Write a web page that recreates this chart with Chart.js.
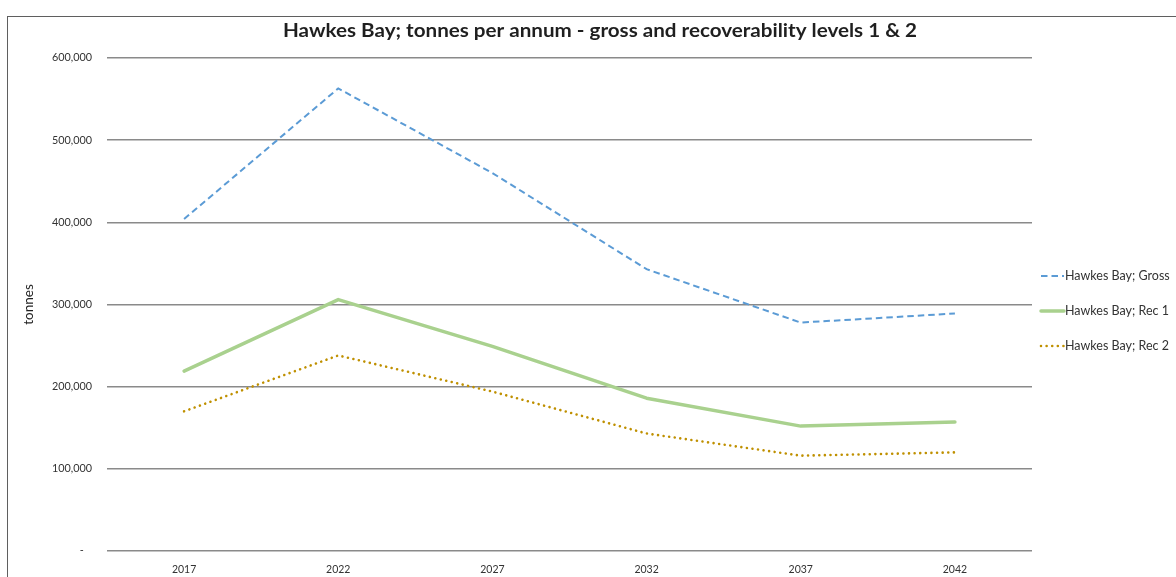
<!DOCTYPE html>
<html>
<head>
<meta charset="utf-8">
<script src="https://cdn.jsdelivr.net/npm/chart.js@4/dist/chart.umd.min.js"></script>
<style>
  html, body { margin: 0; padding: 0; background: #fff; }
  #wrap { position: relative; width: 1176px; height: 577px; overflow: hidden; }
  #frame { position: absolute; left: 7px; top: 16px; right: -10px; bottom: -10px;
           border-left: 1.5px solid #5f5f5f; border-top: 1.5px solid #5f5f5f; }
  canvas { position: absolute; left: 0; top: 0; }
</style>
</head>
<body>
<div id="wrap">
  <div id="frame"></div>
  <canvas id="chart" width="1176" height="577"></canvas>
</div>
<script>
// Projection years
const years = ['2017', '2022', '2027', '2032', '2037', '2042'];

// Tonnes per annum for each series
const grossTonnes = [404000, 563000, 460000, 343000, 278000, 289000];
const rec1Tonnes  = [219000, 306000, 249000, 186000, 152000, 157000];
const rec2Tonnes  = [170000, 238000, 194000, 143000, 116000, 120000];

// Value axis range
const yMin = 0;
const yMax = 600000;
const yStep = 100000;

const seriesNames = ['Hawkes Bay; Gross', 'Hawkes Bay; Rec 1', 'Hawkes Bay; Rec 2'];
const chartTitle = 'Hawkes Bay; tonnes per annum - gross and recoverability levels 1 & 2';
const yTitle = 'tonnes';

const FONT = 'Lato, "Open Sans", sans-serif';

// Title centred over the framed panel, fitted to the panel's title width
const titlePlugin = {
  id: 'panelTitle',
  afterDraw(chart) {
    const ctx = chart.ctx;
    ctx.save();
    ctx.font = 'bold 19px ' + FONT;
    ctx.fillStyle = '#1f1f1f';
    ctx.textAlign = 'center';
    ctx.textBaseline = 'middle';
    const w = ctx.measureText(chartTitle).width;
    const sx = 634 / w;
    ctx.translate(600, 31);
    ctx.scale(sx, 1);
    ctx.fillText(chartTitle, 0, 0);
    ctx.restore();
  }
};

// Line-sample legend to the right of the plot
const sideLegend = {
  id: 'sideLegend',
  afterDraw(chart) {
    const ctx = chart.ctx;
    chart.data.datasets.forEach((ds, i) => {
      const y = 276 + 35 * i;
      ctx.save();
      ctx.strokeStyle = ds.borderColor;
      ctx.lineWidth = ds.borderWidth;
      ctx.lineCap = ds.borderCapStyle || 'butt';
      ctx.setLineDash(ds.borderDash || []);
      ctx.beginPath();
      ctx.moveTo(1041, y);
      ctx.lineTo(1064, y);
      ctx.stroke();
      ctx.restore();
      ctx.save();
      ctx.font = '12.5px ' + FONT;
      ctx.fillStyle = '#333333';
      ctx.textAlign = 'left';
      ctx.textBaseline = 'middle';
      ctx.fillText(ds.label, 1065, y);
      ctx.restore();
    });
  }
};

new Chart(document.getElementById('chart'), {
  type: 'line',
  data: {
    labels: years,
    datasets: [
      {
        label: seriesNames[0],
        data: grossTonnes,
        borderColor: '#5B9BD5',
        borderWidth: 2,
        borderDash: [6.5, 4],
        borderCapStyle: 'butt',
        pointRadius: 0,
        fill: false,
        tension: 0
      },
      {
        label: seriesNames[1],
        data: rec1Tonnes,
        borderColor: '#A9D18E',
        borderWidth: 3.5,
        borderCapStyle: 'round',
        borderJoinStyle: 'round',
        pointRadius: 0,
        fill: false,
        tension: 0
      },
      {
        label: seriesNames[2],
        data: rec2Tonnes,
        borderColor: '#BF9000',
        borderWidth: 2.6,
        borderDash: [0.01, 5.6],
        borderCapStyle: 'round',
        pointRadius: 0,
        fill: false,
        tension: 0
      }
    ]
  },
  options: {
    responsive: false,
    animation: false,
    devicePixelRatio: 1,
    layout: { padding: { left: 0, right: 144, top: 58, bottom: 0 } },
    plugins: {
      legend: { display: false },
      title: { display: false },
      tooltip: { enabled: false }
    },
    scales: {
      x: {
        type: 'category',
        offset: true,
        grid: { display: false, drawTicks: false },
        border: { display: false },
        ticks: {
          color: '#333333',
          font: { family: FONT, size: 10.5 },
          padding: 12,
          maxRotation: 0
        },
        afterFit(scale) { scale.height = 26; }
      },
      y: {
        min: yMin,
        max: yMax,
        grid: { color: '#8a8a8a', lineWidth: 1.4, drawTicks: false },
        border: { display: false },
        ticks: {
          stepSize: yStep,
          color: '#333333',
          font: { family: FONT, size: 10.8 },
          padding: 15,
          callback: (v) => v === 0 ? '-   ' : Number(v).toLocaleString('en-US')
        },
        title: {
          display: true,
          text: yTitle,
          color: '#1f1f1f',
          font: { family: FONT, size: 13.5 },
          padding: { top: 21, bottom: 0 }
        },
        afterFit(scale) { scale.width = 107; }
      }
    }
  },
  plugins: [titlePlugin, sideLegend]
});
</script>
</body>
</html>
